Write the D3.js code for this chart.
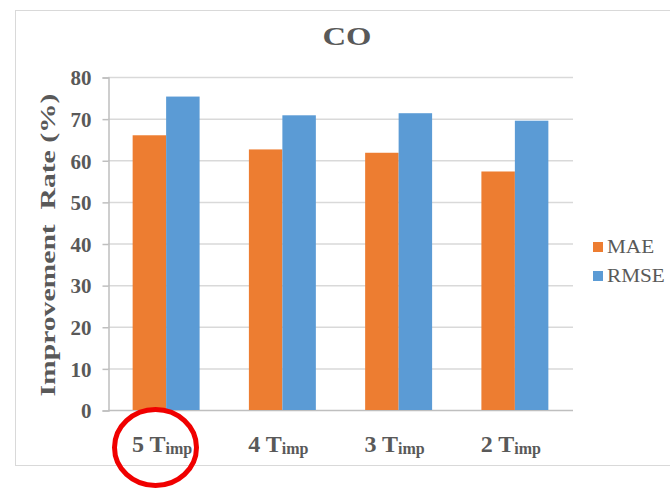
<!DOCTYPE html>
<meta charset="utf-8">
<style>
body { margin: 0; background: #fff; }
text { font-family: "Liberation Serif", "Times New Roman", serif; font-weight: bold; fill: #595959; }
</style>
<svg width="670" height="490"></svg>
<script src="https://cdn.jsdelivr.net/npm/d3@7"></script>
<script>

var categories = ["5", "4", "3", "2"];
var series = ["MAE", "RMSE"];
var mae = [66, 62.6, 61.8, 57.3];
var rmse = [75.3, 70.8, 71.3, 69.5];
var yTicks = [0, 10, 20, 30, 40, 50, 60, 70, 80];
var colors = ["#ed7d31", "#5b9bd5"];

var svg = d3.select("svg");

// outer chart frame
svg.append("rect")
    .attr("x", 15.5).attr("y", 10.5)
    .attr("width", 700).attr("height", 455)
    .attr("fill", "none").attr("stroke", "#d9d9d9");

var plotLeft = 108, plotRight = 573, plotTop = 77, plotBottom = 410;

var x0 = d3.scaleBand().domain(categories).range([plotLeft, plotRight])
    .paddingInner(0.424).paddingOuter(0.212);
var x1 = d3.scaleBand().domain(series).range([0, x0.bandwidth()]);
var y = d3.scaleLinear().domain([0, 80]).range([plotBottom, plotTop]);

// gridlines
svg.append("g").selectAll("line")
  .data(yTicks.slice(1))
  .enter().append("line")
    .attr("x1", plotLeft).attr("x2", plotRight)
    .attr("y1", function(d) { return y(d) + 0.5; })
    .attr("y2", function(d) { return y(d) + 0.5; })
    .attr("stroke", "#d9d9d9").attr("stroke-width", 1.5);

// y axis
var yAxis = svg.append("g")
    .attr("transform", "translate(" + (plotLeft + 0.5) + ",0.5)")
    .call(d3.axisLeft(y).tickValues(yTicks).tickSize(6).tickPadding(11));
yAxis.select(".domain").attr("stroke", "#bfbfbf").attr("stroke-width", 1.5);
yAxis.selectAll(".tick line").attr("stroke", "#bfbfbf").attr("stroke-width", 1.5);
yAxis.selectAll(".tick text")
    .attr("font-size", 21)
    .attr("font-family", null)
    .attr("fill", null)
    .attr("dy", "0.35em");

// x baseline
svg.append("line")
    .attr("x1", plotLeft).attr("x2", plotRight)
    .attr("y1", plotBottom + 0.5).attr("y2", plotBottom + 0.5)
    .attr("stroke", "#bfbfbf").attr("stroke-width", 1.5);

// bars
var groups = svg.append("g").selectAll("g")
  .data(categories)
  .enter().append("g")
    .attr("transform", function(d) { return "translate(" + x0(d) + ",0)"; });

groups.selectAll("rect")
  .data(function(d, i) { return [mae[i], rmse[i]]; })
  .enter().append("rect")
    .attr("x", function(d, j) { return x1(series[j]); })
    .attr("y", function(d) { return y(d); })
    .attr("width", x1.bandwidth())
    .attr("height", function(d) { return plotBottom - y(d); })
    .attr("fill", function(d, j) { return colors[j]; });

// x labels
var xl = svg.append("g").selectAll("text")
  .data(categories)
  .enter().append("text")
    .attr("x", function(d) { return x0(d) + x0.bandwidth() / 2 - 4; })
    .attr("y", 452)
    .attr("text-anchor", "middle")
    .attr("font-size", 24);
xl.append("tspan").text(function(d) { return d + " T"; });
xl.append("tspan").attr("font-size", 16).attr("dy", 2).text("imp");

// title
svg.append("text")
    .attr("x", 347).attr("y", 45)
    .attr("text-anchor", "middle")
    .attr("font-size", 26)
    .attr("textLength", 49)
    .attr("lengthAdjust", "spacingAndGlyphs")
    .text("CO");

// y title
svg.append("text")
    .attr("transform", "translate(55,245) rotate(-90)")
    .attr("text-anchor", "middle")
    .attr("font-size", 22)
    .attr("textLength", 303)
    .attr("lengthAdjust", "spacingAndGlyphs")
    .style("white-space", "pre")
    .text("Improvement  Rate (%)");

// legend
var leg = svg.append("g").selectAll("g")
  .data(series)
  .enter().append("g")
    .attr("transform", function(d, i) { return "translate(593," + (242 + i * 29) + ")"; });
leg.append("rect")
    .attr("width", 10).attr("height", 10)
    .attr("fill", function(d, i) { return colors[i]; });
leg.append("text")
    .attr("transform", "translate(14,11) scale(1.18,1)")
    .attr("font-size", 18)
    .style("font-weight", "normal")
    .text(function(d) { return d; });

// red highlight ellipse
svg.append("ellipse")
    .attr("cx", 155.5).attr("cy", 447.5)
    .attr("rx", 41).attr("ry", 38)
    .attr("fill", "none")
    .attr("stroke", "#f00000")
    .attr("stroke-width", 5);

</script>
